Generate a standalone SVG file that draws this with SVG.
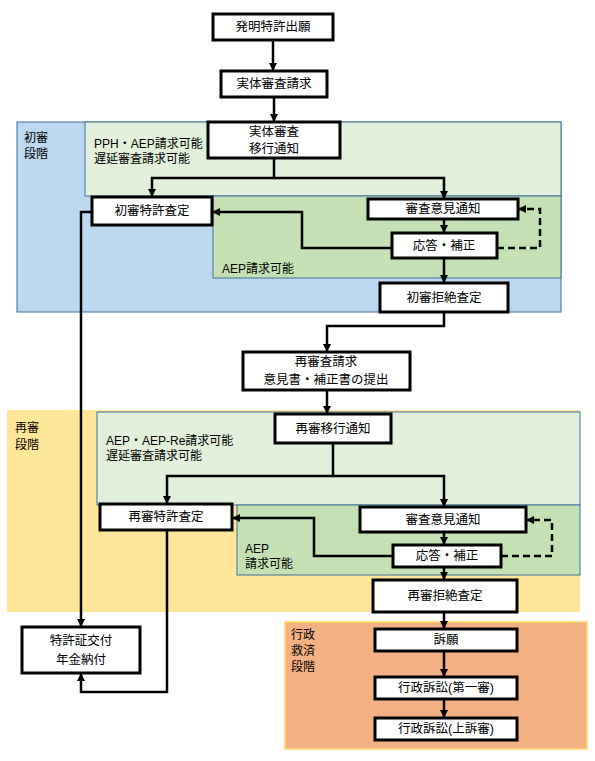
<svg xmlns="http://www.w3.org/2000/svg" width="595" height="761" viewBox="0 0 595 761">
<style>
text{font-family:"Liberation Sans","Noto Sans CJK JP",sans-serif;fill:#000}
.bt{font-size:12.5px;text-anchor:middle;dominant-baseline:central}
.lb{font-size:12px}
.box{fill:#fff;stroke:#000;stroke-width:3}
.ln{fill:none;stroke:#000;stroke-width:2.5}
.ds{fill:none;stroke:#000;stroke-width:2.5;stroke-dasharray:7,4}
</style>
<defs>
<marker id="a" viewBox="0 0 10 10" refX="10" refY="5" markerWidth="8" markerHeight="8" markerUnits="userSpaceOnUse" orient="auto"><path d="M0,0 L10,5 L0,10 z" fill="#000"/></marker>
</defs>
<rect width="595" height="761" fill="#fff"/>
<g id="regions">
<rect x="17" y="122" width="544" height="190" fill="#BDD7EE" stroke="#41719C" stroke-width="1"/>
<rect x="85" y="122" width="476" height="74" fill="#E2EFDA" stroke="#41719C" stroke-width="1"/>
<rect x="213" y="196" width="348" height="82" fill="#C5E0B4" stroke="#41719C" stroke-width="1"/>
<rect x="7" y="410" width="573" height="202" fill="#FFE699"/>
<rect x="97" y="412" width="483" height="93" fill="#E2EFDA" stroke="#41719C" stroke-width="1"/>
<rect x="237" y="505" width="343" height="70" fill="#C5E0B4" stroke="#41719C" stroke-width="1"/>
<rect x="285" y="622" width="302" height="127" fill="#F4B183" stroke="#FFD966" stroke-width="1.5"/>
<text class="lb" x="24" y="142">初審</text><text class="lb" x="24" y="158">段階</text>
<text class="lb" x="94" y="148">PPH・AEP請求可能</text><text class="lb" x="94" y="163">遅延審査請求可能</text>
<text class="lb" x="222" y="273">AEP請求可能</text>
<text class="lb" x="15" y="432">再審</text><text class="lb" x="15" y="449">段階</text>
<text class="lb" x="106" y="445">AEP・AEP-Re請求可能</text><text class="lb" x="106" y="460">遅延審査請求可能</text>
<text class="lb" x="245" y="553">AEP</text><text class="lb" x="245" y="568">請求可能</text>
<text class="lb" x="291" y="639">行政</text><text class="lb" x="291" y="655">救済</text><text class="lb" x="291" y="671">段階</text>
</g>
<g id="connectors">
<path class="ln" d="M273,40 V71" marker-end="url(#a)"/>
<path class="ln" d="M274,97 V122" marker-end="url(#a)"/>
<path class="ln" d="M274,158 V178 H152 V197" marker-end="url(#a)"/>
<path class="ln" d="M274,178 H444 V199" marker-end="url(#a)"/>
<path class="ln" d="M444,219 V233" marker-end="url(#a)"/>
<path class="ln" d="M392,248 H302 V212 H212" marker-end="url(#a)"/>
<path class="ds" d="M497,248 H540 V209 H518" marker-end="url(#a)"/>
<path class="ln" d="M444,258 V283" marker-end="url(#a)"/>
<path class="ln" d="M444,312 V326 H327 V352" marker-end="url(#a)"/>
<path class="ln" d="M327,390 V414" marker-end="url(#a)"/>
<path class="ln" d="M333,443 V476 H167 V504" marker-end="url(#a)"/>
<path class="ln" d="M333,476 H444 V507" marker-end="url(#a)"/>
<path class="ln" d="M444,532 V545" marker-end="url(#a)"/>
<path class="ln" d="M393,556 H314 V518 H232" marker-end="url(#a)"/>
<path class="ds" d="M501,556 H552 V520 H526" marker-end="url(#a)"/>
<path class="ln" d="M444,567 V580" marker-end="url(#a)"/>
<path class="ln" d="M444,612 V629" marker-end="url(#a)"/>
<path class="ln" d="M444,651 V677" marker-end="url(#a)"/>
<path class="ln" d="M444,699 V718" marker-end="url(#a)"/>
<path class="ln" d="M92,212 H81 V627" marker-end="url(#a)"/>
<path class="ln" d="M167,530 V692 H81 V673" marker-end="url(#a)"/>
</g>
<g id="n1"><rect class="box" x="213" y="14" width="120" height="26"/><text class="bt" x="273" y="27">発明特許出願</text></g>
<g id="n2"><rect class="box" x="221" y="71" width="106" height="26"/><text class="bt" x="274" y="84">実体審査請求</text></g>
<g id="n3"><rect class="box" x="208" y="122" width="132" height="36"/><text class="bt" x="274" y="132">実体審査</text><text class="bt" x="274" y="149">移行通知</text></g>
<g id="n4"><rect class="box" x="92" y="197" width="120" height="28"/><text class="bt" x="152" y="211">初審特許査定</text></g>
<g id="n5"><rect class="box" x="368" y="199" width="150" height="20"/><text class="bt" x="443" y="209">審査意見通知</text></g>
<g id="n6"><rect class="box" x="392" y="233" width="105" height="25"/><text class="bt" x="444" y="246">応答・補正</text></g>
<g id="n7"><rect class="box" x="380" y="283" width="128" height="29"/><text class="bt" x="444" y="298">初審拒絶査定</text></g>
<g id="n8"><rect class="box" x="243" y="352" width="167" height="38"/><text class="bt" x="326" y="362">再審査請求</text><text class="bt" x="326" y="380">意見書・補正書の提出</text></g>
<g id="n9"><rect class="box" x="275" y="414" width="116" height="29"/><text class="bt" x="333" y="429">再審移行通知</text></g>
<g id="n10"><rect class="box" x="100" y="504" width="132" height="26"/><text class="bt" x="166" y="517">再審特許査定</text></g>
<g id="n11"><rect class="box" x="360" y="507" width="166" height="25"/><text class="bt" x="443" y="520">審査意見通知</text></g>
<g id="n12"><rect class="box" x="393" y="545" width="108" height="22"/><text class="bt" x="447" y="556">応答・補正</text></g>
<g id="n13"><rect class="box" x="373" y="580" width="144" height="32"/><text class="bt" x="445" y="596">再審拒絶査定</text></g>
<g id="n14"><rect class="box" x="375" y="629" width="142" height="22"/><text class="bt" x="446" y="640">訴願</text></g>
<g id="n15"><rect class="box" x="375" y="677" width="142" height="22"/><text class="bt" x="446" y="688">行政訴訟(第一審)</text></g>
<g id="n16"><rect class="box" x="375" y="718" width="142" height="22"/><text class="bt" x="446" y="729">行政訴訟(上訴審)</text></g>
<g id="n17"><rect class="box" x="22" y="627" width="118" height="46"/><text class="bt" x="81" y="641">特許証交付</text><text class="bt" x="81" y="660">年金納付</text></g>
</svg>
